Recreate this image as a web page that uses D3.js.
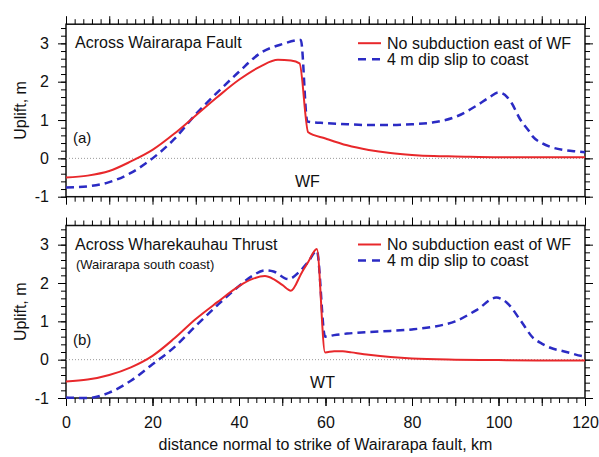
<!DOCTYPE html>
<html>
<head>
<meta charset="utf-8">
<script src="https://cdn.jsdelivr.net/npm/d3@7/dist/d3.min.js"></script>
<style>
  body { margin: 0; background: #fff; }
  svg text { font-family: "Liberation Sans", Arial, Helvetica, sans-serif; fill: #111; }
</style>
</head>
<body>
<div id="chart"></div>
<script>
// panel (a): across Wairarapa Fault
var kmA_red  = [0, 5, 10, 15, 20, 25, 30, 35, 40, 45, 49, 52, 54, 56, 60, 65, 70, 75, 80, 85, 90, 100, 110, 120];
var upA_red  = [-0.5, -0.45, -0.33, -0.08, 0.22, 0.64, 1.12, 1.6, 2.05, 2.4, 2.57, 2.55, 2.48, 0.68, 0.52, 0.34, 0.22, 0.14, 0.09, 0.06, 0.05, 0.03, 0.03, 0.03];
var kmA_blue = [0, 5, 10, 15, 20, 25, 30, 35, 40, 45, 50, 54.3, 55.8, 60, 65, 70, 75, 80, 85, 90, 95, 98, 100, 102, 103, 105, 107, 108, 110, 112, 115, 118, 120];
var upA_blue = [-0.76, -0.73, -0.62, -0.38, 0.0, 0.5, 1.15, 1.72, 2.26, 2.75, 2.98, 3.09, 0.96, 0.92, 0.89, 0.87, 0.87, 0.89, 0.94, 1.08, 1.38, 1.6, 1.72, 1.6, 1.45, 1.02, 0.72, 0.56, 0.4, 0.3, 0.22, 0.18, 0.16];

// panel (b): across Wharekauhau Thrust
var kmB_red  = [0, 5, 10, 15, 20, 25, 30, 35, 40, 43, 46, 48, 50, 52, 54.5, 56, 58, 59.9, 62, 64, 66, 70, 75, 80, 90, 100, 110, 120];
var upB_red  = [-0.57, -0.52, -0.4, -0.2, 0.1, 0.55, 1.06, 1.5, 1.92, 2.1, 2.18, 2.1, 1.95, 1.8, 2.27, 2.55, 2.89, 0.19, 0.22, 0.22, 0.19, 0.13, 0.07, 0.03, 0.0, -0.01, -0.02, -0.02];
var kmB_blue = [0, 5, 10, 15, 20, 25, 30, 35, 40, 43, 46, 48, 51.4, 54, 56, 58, 59.9, 62, 65, 70, 75, 80, 85, 90, 95, 99.5, 102, 105, 108, 110, 112, 115, 117, 119, 120];
var upB_blue = [-0.99, -1.0, -0.86, -0.55, -0.12, 0.32, 0.88, 1.42, 1.92, 2.18, 2.33, 2.3, 2.1, 2.3, 2.55, 2.84, 0.6, 0.64, 0.68, 0.72, 0.75, 0.79, 0.86, 1.0, 1.3, 1.62, 1.48, 1.04, 0.57, 0.42, 0.31, 0.22, 0.16, 0.1, 0.08];

var xLabels = [0, 20, 40, 60, 80, 100, 120];
var yLabels = [-1, 0, 1, 2, 3];
var legendNames = ["No subduction east of WF", "4 m dip slip to coast"];

var red = "#e8282b", blue = "#2b2bc4";
var width = 599, height = 457;
var left = 66, right = 585;

var svg = d3.select("#chart").append("svg")
    .attr("width", width)
    .attr("height", height);

var x = d3.scaleLinear().domain([0, 120]).range([left, right]);

function zip(xs, ys) { return xs.map(function(d, i) { return [d, ys[i]]; }); }
function plain(d) { return String(d); }  // hyphen minus like the original

// one set of ticks: axis without its domain line
function ticks(g, axis, pos, size, fmt, pad) {
  var a = g.append("g").attr("transform", pos)
    .call(axis.tickSize(size).tickPadding(pad || 3).tickFormat(fmt || ""));
  a.select(".domain").remove();
  a.selectAll(".tick line").attr("stroke", "#000").attr("stroke-width", 1);
  return a;
}

function panel(top, bottom, title, subtitle, tag, fault, faultKm, redData, blueData, showX) {
  var y = d3.scaleLinear().domain([-1, 3.5]).range([bottom, top]);
  var g = svg.append("g");

  var minorX = d3.range(0, 121, 2), majorX = d3.range(0, 121, 10);
  var minorY = d3.range(-10, 35, 2).map(function(d) { return d / 10; });

  // frame
  g.append("rect")
    .attr("x", left).attr("y", top)
    .attr("width", right - left).attr("height", bottom - top)
    .attr("fill", "none").attr("stroke", "#111").attr("stroke-width", 1.5);

  // ticks pointing outward on all four sides
  ticks(g, d3.axisBottom(x).tickValues(minorX), "translate(0," + bottom + ")", 5);
  ticks(g, d3.axisBottom(x).tickValues(majorX), "translate(0," + bottom + ")", 8);
  ticks(g, d3.axisTop(x).tickValues(minorX), "translate(0," + top + ")", 5);
  ticks(g, d3.axisTop(x).tickValues(majorX), "translate(0," + top + ")", 8);
  ticks(g, d3.axisLeft(y).tickValues(minorY), "translate(" + left + ",0)", 5);
  ticks(g, d3.axisRight(y).tickValues(minorY), "translate(" + right + ",0)", 5);
  ticks(g, d3.axisRight(y).tickValues(yLabels), "translate(" + right + ",0)", 8);
  ticks(g, d3.axisLeft(y).tickValues(yLabels), "translate(" + left + ",0)", 8, plain, 9)
    .selectAll("text").style("font-size", "16px").attr("fill", "#111");
  if (showX) {
    ticks(g, d3.axisBottom(x).tickValues(xLabels), "translate(0," + bottom + ")", 8, plain, 11)
      .selectAll("text").style("font-size", "16px").attr("fill", "#111");
  }

  // zero line
  g.append("line")
    .attr("x1", left).attr("x2", right)
    .attr("y1", y(0)).attr("y2", y(0))
    .attr("stroke", "#999").attr("stroke-width", 1).attr("stroke-dasharray", "1,2");

  var line = d3.line()
    .x(function(d) { return x(d[0]); })
    .y(function(d) { return y(d[1]); })
    .curve(d3.curveMonotoneX);

  g.append("path").datum(blueData)
    .attr("fill", "none").attr("stroke", blue).attr("stroke-width", 2.5)
    .attr("stroke-dasharray", "8,5")
    .attr("d", line);
  g.append("path").datum(redData)
    .attr("fill", "none").attr("stroke", red).attr("stroke-width", 2)
    .attr("d", line);

  // texts
  g.append("text").attr("x", 75).attr("y", top + 24).text(title).style("font-size", "16px");
  if (subtitle) {
    g.append("text").attr("x", 76).attr("y", top + 43).text(subtitle).style("font-size", "13px");
  }
  g.append("text").attr("x", 73).attr("y", y(0) - 15).text(tag).style("font-size", "15px");
  g.append("text").attr("x", x(faultKm)).attr("y", bottom - 10)
    .attr("text-anchor", "middle").text(fault).style("font-size", "16px");

  // legend
  var ly = top + 19;
  g.append("line").attr("x1", 358).attr("x2", 381).attr("y1", ly).attr("y2", ly)
    .attr("stroke", red).attr("stroke-width", 2);
  g.append("line").attr("x1", 358).attr("x2", 381).attr("y1", ly + 16).attr("y2", ly + 16)
    .attr("stroke", blue).attr("stroke-width", 2.5).attr("stroke-dasharray", "8,6");
  g.append("text").attr("x", 387).attr("y", ly + 5.5).text(legendNames[0]).style("font-size", "16px");
  g.append("text").attr("x", 387).attr("y", ly + 21.5).text(legendNames[1]).style("font-size", "16px");

  // y title
  g.append("text")
    .attr("transform", "translate(26," + ((top + bottom) / 2) + ") rotate(-90)")
    .attr("text-anchor", "middle").text("Uplift, m").style("font-size", "16px");
}

panel(24.2, 196.7, "Across Wairarapa Fault", null, "(a)", "WF", 55.8,
  zip(kmA_red, upA_red), zip(kmA_blue, upA_blue), false);
panel(225.5, 398, "Across Wharekauhau Thrust", "(Wairarapa south coast)", "(b)", "WT", 59.3,
  zip(kmB_red, upB_red), zip(kmB_blue, upB_blue), true);

svg.append("text")
  .attr("x", x(60)).attr("y", 450)
  .attr("text-anchor", "middle")
  .text("distance normal to strike of Wairarapa fault, km")
  .style("font-size", "16px");
</script>
</body>
</html>
